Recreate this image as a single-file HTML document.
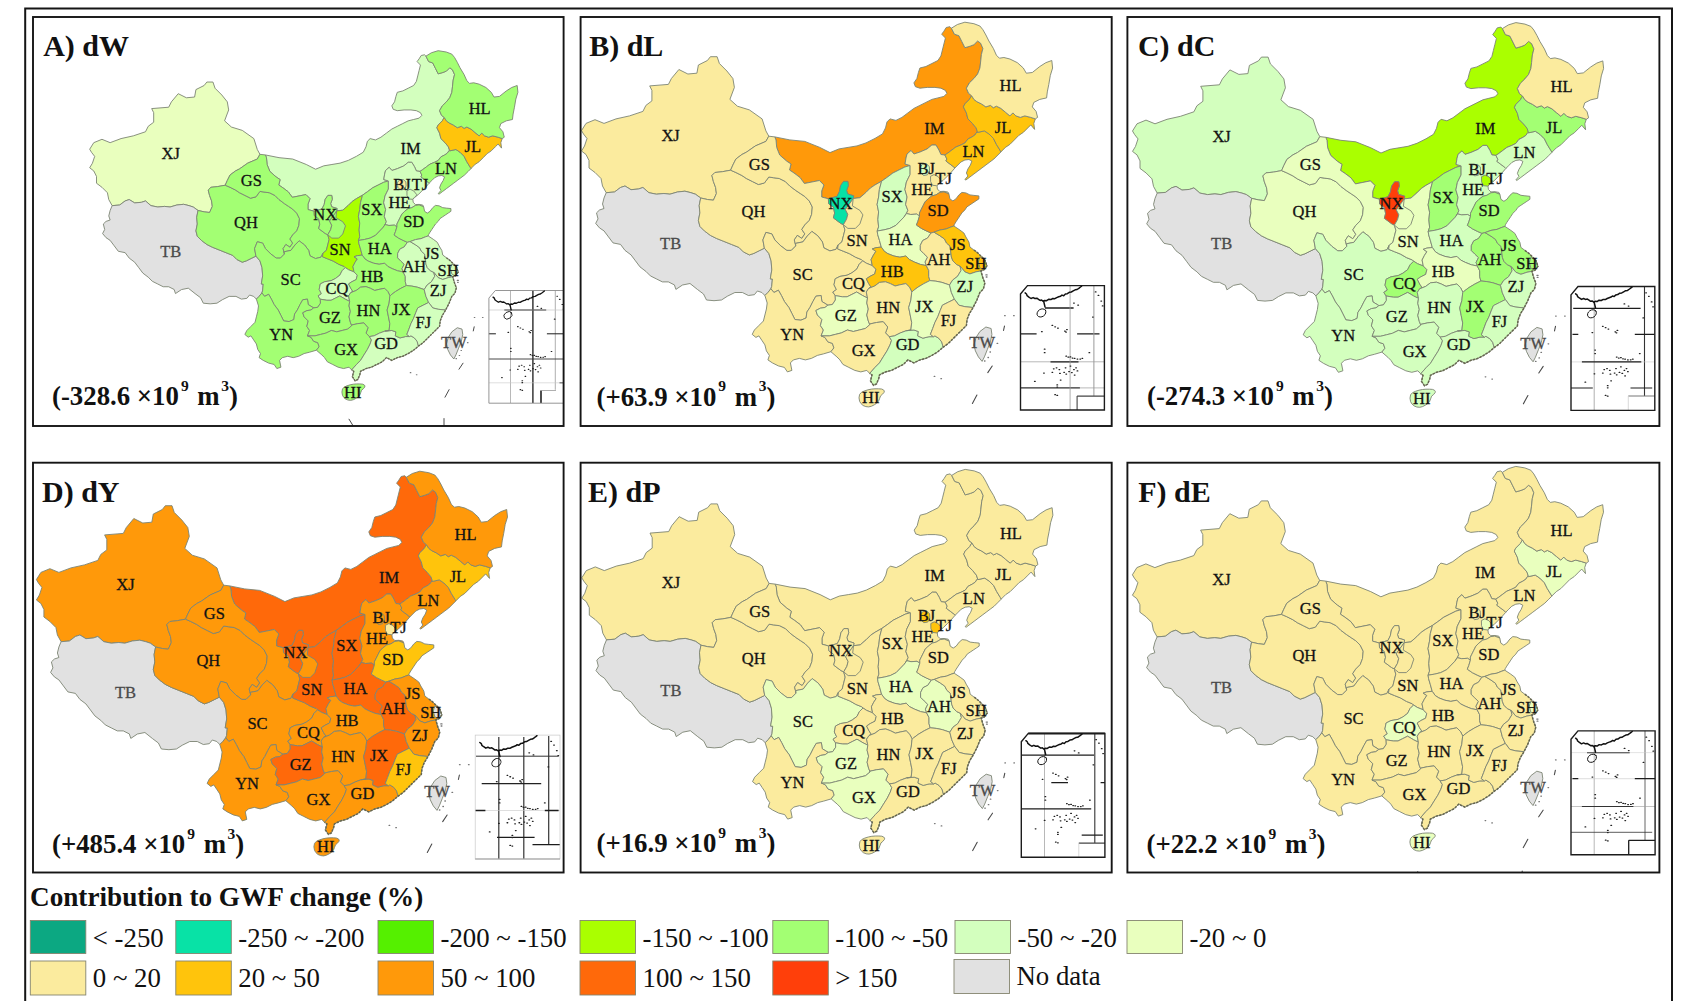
<!DOCTYPE html>
<html><head><meta charset="utf-8"><title>GWF change</title>
<style>
html,body{margin:0;padding:0;background:#fff;}
body{width:1684px;height:1001px;overflow:hidden;font-family:"Liberation Serif",serif;}
svg{display:block;}
text{font-family:"Liberation Serif",serif;fill:#111;}
.t{font-weight:bold;font-size:30px;}
.v{font-weight:bold;font-size:26.8px;}
.lg{font-size:26.8px;}
.lt{font-weight:bold;font-size:27.2px;}
.pl{font-size:16.5px;text-anchor:middle;fill:#1a1a1a;stroke:#1a1a1a;stroke-width:0.3;}
.pr{stroke:#7d8474;stroke-width:0.9;stroke-linejoin:round;}
</style></head><body>
<svg width="1684" height="1001" viewBox="0 0 1684 1001">
<rect x="0" y="0" width="1684" height="1001" fill="#fff"/>
<defs>
<path id="pIM" d="M774.8,136.9 789.8,139.9 804.8,141.4 819.8,147.4 830.0,152.6 839.0,148.9 848.0,147.4 857.0,145.9 866.0,142.9 875.0,138.4 882.5,133.9 885.5,127.9 887.0,121.9 890.0,118.9 895.9,120.4 901.9,117.4 907.9,112.9 913.9,108.4 919.9,105.4 925.9,102.4 931.9,99.4 937.9,97.9 943.9,96.4 946.9,93.4 945.4,90.4 940.9,88.2 934.9,87.4 927.4,87.4 919.9,88.2 915.4,86.7 913.9,82.9 916.9,78.5 918.4,72.5 919.9,68.0 925.9,66.5 931.9,63.5 937.9,60.5 940.9,56.0 942.4,50.0 943.9,44.0 945.4,38.0 941.7,34.2 943.9,31.2 946.2,27.5 949.9,26.7 951.4,28.2 954.4,34.2 958.9,35.7 961.9,41.7 964.9,47.7 970.1,46.2 973.9,44.7 977.6,41.0 980.6,43.2 982.9,48.5 981.4,54.5 980.6,62.0 979.9,68.0 977.6,74.0 973.9,78.5 969.4,82.9 966.4,88.2 968.6,93.4 971.6,95.7 969.4,99.4 964.9,103.9 963.4,106.9 966.4,112.9 967.9,118.9 972.4,123.4 976.1,127.9 977.6,132.4 976.9,132.0 974.9,135.0 971.9,137.0 967.9,139.0 964.9,143.0 960.9,145.0 955.9,147.0 951.9,150.0 947.9,153.0 944.9,155.0 940.9,154.5 938.9,150.0 935.9,145.0 931.9,145.0 927.0,149.0 920.0,152.0 914.0,154.0 911.0,150.5 907.0,154.0 906.0,158.0 905.0,164.0 910.1,165.5 904.9,167.0 898.9,170.0 892.9,173.0 886.9,177.5 881.6,181.2 874.9,185.0 870.4,188.0 865.9,192.5 859.9,197.7 853.2,198.5 853.7,195.8 847.8,194.0 846.6,190.4 848.4,185.6 847.8,181.4 843.6,181.4 840.6,185.6 839.4,191.6 837.0,196.4 828.4,198.8 821.7,197.0 821.7,191.0 823.9,185.0 819.4,180.5 811.9,182.0 804.4,183.5 800.0,177.5 794.0,173.0 789.5,170.0 791.0,164.0 786.5,161.0 779.7,155.0 776.7,147.5 776.0,140.0 774.8,136.9Z"/>
<path id="pXJ" d="M606.2,192.7 602.5,186.0 601.0,178.5 595.0,172.5 589.0,168.0 589.0,160.5 586.0,154.5 581.5,151.0 584.5,146.0 587.0,138.5 583.5,134.0 581.5,130.6 586.0,123.4 595.0,119.7 604.0,123.4 616.0,118.9 629.5,115.9 642.9,111.4 645.9,105.4 651.9,100.9 651.9,90.4 649.7,85.9 668.4,84.4 671.4,78.5 678.9,69.5 687.9,74.0 696.9,73.2 698.4,65.0 707.4,60.5 710.4,56.7 717.1,56.7 719.4,63.5 726.9,71.0 732.9,78.5 734.4,87.4 729.9,99.4 737.4,106.2 749.4,109.9 762.1,118.9 765.9,130.9 768.8,136.2 765.9,141.4 755.4,145.9 746.4,152.2 741.9,154.5 735.9,159.0 732.9,165.0 730.6,170.2 722.4,171.7 714.9,172.5 711.9,175.5 713.4,181.5 715.6,187.5 716.4,193.5 713.4,200.2 707.4,199.5 700.7,198.0 695.4,194.2 690.9,192.7 684.9,191.2 677.4,192.0 669.9,194.2 663.9,193.5 656.4,194.2 648.9,192.7 642.9,187.5 638.5,189.0 631.0,189.7 625.0,186.0 620.5,187.5 614.5,192.0 606.2,192.7Z"/>
<path id="pTB" d="M606.2,192.7 614.5,192.0 620.5,187.5 625.0,186.0 631.0,189.7 638.5,189.0 642.9,187.5 648.9,192.7 656.4,194.2 663.9,193.5 669.9,194.2 677.4,192.0 684.9,191.2 690.9,192.7 695.4,194.2 700.7,198.0 699.2,205.5 699.9,212.9 698.4,220.4 699.9,226.4 704.4,230.9 710.4,235.4 716.4,238.4 723.9,241.4 731.4,244.4 738.9,247.4 743.4,251.9 749.4,254.9 753.9,253.4 759.9,250.4 764.4,248.2 768.8,253.4 771.1,260.9 771.8,269.9 770.3,278.9 772.4,279.0 771.7,286.5 770.9,288.7 767.9,292.5 764.9,295.5 761.9,292.5 757.4,291.0 754.4,294.7 748.4,295.5 742.4,292.5 734.9,292.5 727.4,296.2 721.5,300.0 714.0,300.7 706.5,300.0 703.5,294.0 697.5,289.5 690.0,283.5 682.5,285.0 675.9,289.4 674.4,284.9 668.4,281.9 662.4,281.9 656.4,278.9 650.4,275.9 645.9,271.4 640.0,266.9 635.5,260.9 631.0,254.9 625.0,250.4 620.5,244.4 613.0,242.9 608.5,236.9 604.0,230.9 599.5,227.9 595.7,223.4 598.0,218.9 596.5,212.9 599.5,210.0 604.0,208.5 602.5,204.0 604.0,198.0 606.2,192.7Z"/>
<path id="pQH" d="M700.7,198.0 707.4,199.5 713.4,200.2 716.4,193.5 715.6,187.5 713.4,181.5 711.9,175.5 714.9,172.5 722.4,171.7 730.6,170.2 735.9,172.5 741.9,175.5 746.4,178.5 752.4,181.5 758.4,184.5 764.4,183.0 768.8,177.0 773.3,177.7 779.3,178.5 785.3,181.5 789.8,186.0 795.8,190.5 800.3,193.5 804.8,196.5 809.3,201.0 812.3,207.0 811.6,214.4 809.3,220.4 804.8,224.9 801.8,229.4 804.8,233.9 801.8,238.4 797.3,235.4 794.3,239.9 795.8,245.9 791.3,250.4 786.8,250.4 780.8,245.9 774.8,239.9 771.8,233.9 765.9,232.4 762.9,239.9 764.4,248.2 759.9,250.4 753.9,253.4 749.4,254.9 743.4,251.9 738.9,247.4 731.4,244.4 723.9,241.4 716.4,238.4 710.4,235.4 704.4,230.9 699.9,226.4 698.4,220.4 699.9,212.9 699.2,205.5 700.7,198.0Z"/>
<path id="pGS" d="M730.6,170.2 732.9,165.0 735.9,159.0 741.9,154.5 746.4,152.2 755.4,145.9 765.9,141.4 768.8,136.2 774.8,136.9 776.0,140.0 776.7,147.5 779.7,155.0 786.5,161.0 791.0,164.0 789.5,170.0 794.0,173.0 800.0,177.5 804.4,183.5 811.9,182.0 819.4,180.5 823.9,185.0 821.7,191.0 821.7,197.0 828.4,198.8 828.6,203.6 833.4,207.2 834.6,213.1 833.4,217.9 840.6,223.3 843.4,224.7 844.9,229.9 843.4,235.9 841.9,241.9 838.2,244.9 835.9,249.4 829.9,250.9 823.9,247.9 822.4,241.9 817.9,235.9 811.9,231.4 807.4,235.9 802.9,241.9 795.5,243.4 795.8,245.9 794.3,239.9 797.3,235.4 801.8,238.4 804.8,233.9 801.8,229.4 804.8,224.9 809.3,220.4 811.6,214.4 812.3,207.0 809.3,201.0 804.8,196.5 800.3,193.5 795.8,190.5 789.8,186.0 785.3,181.5 779.3,178.5 773.3,177.7 768.8,177.0 764.4,183.0 758.4,184.5 752.4,181.5 746.4,178.5 741.9,175.5 735.9,172.5 730.6,170.2Z"/>
<path id="pSC" d="M795.5,243.4 802.9,241.9 807.4,235.9 811.9,231.4 817.9,235.9 822.4,241.9 823.9,247.9 829.9,250.9 835.9,249.4 838.2,244.9 837.6,248.9 843.5,251.3 849.5,253.7 855.5,257.2 861.5,259.6 862.7,260.8 859.1,264.4 856.7,269.2 851.9,272.8 847.1,275.2 840.0,276.4 835.2,278.8 834.0,284.8 836.4,289.6 832.8,292.0 835.2,295.6 835.4,300.0 832.4,304.5 827.9,305.2 821.9,301.5 821.1,295.5 815.9,296.2 812.9,301.5 809.9,307.5 806.9,312.0 806.1,318.0 800.9,320.2 794.9,319.5 791.9,313.5 788.9,307.5 784.4,301.5 781.4,295.5 778.4,290.2 773.9,292.5 770.9,288.7 771.7,286.5 772.4,279.0 770.3,278.9 771.8,269.9 771.1,260.9 768.8,253.4 764.4,248.2 762.9,239.9 765.9,232.4 771.8,233.9 774.8,239.9 780.8,245.9 786.8,250.4 791.3,250.4 795.8,245.9Z"/>
<path id="pYN" d="M764.9,295.5 767.2,303.0 766.4,309.0 764.9,315.0 763.4,321.0 758.9,325.5 754.4,330.0 752.2,334.4 755.9,337.4 758.9,335.9 761.9,340.4 764.9,344.9 766.4,350.9 769.4,355.4 767.9,359.9 772.4,362.9 778.4,365.9 784.4,367.4 787.4,371.9 791.9,370.4 790.4,362.9 793.4,359.9 799.4,358.4 805.4,359.9 811.4,358.4 817.4,355.4 823.4,353.9 830.9,351.7 833.9,347.9 832.4,343.4 827.9,341.9 824.9,337.4 821.1,335.9 823.4,330.0 820.4,325.5 821.9,319.5 817.4,315.0 815.9,310.5 820.4,308.2 824.9,307.5 827.9,305.2 821.9,301.5 821.1,295.5 815.9,296.2 812.9,301.5 809.9,307.5 806.9,312.0 806.1,318.0 800.9,320.2 794.9,319.5 791.9,313.5 788.9,307.5 784.4,301.5 781.4,295.5 778.4,290.2 773.9,292.5 770.9,288.7 767.9,292.5 764.9,295.5Z"/>
<path id="pSN" d="M853.2,198.5 859.9,197.7 865.9,192.5 870.4,188.0 874.9,185.0 881.6,181.2 879.4,189.5 878.6,197.0 877.1,204.4 878.6,211.9 877.9,219.4 878.6,226.9 877.2,231.0 877.7,234.5 879.5,240.5 881.3,247.1 875.9,247.7 872.3,248.9 875.9,251.3 873.5,254.9 871.1,259.6 872.3,265.6 866.3,263.2 862.7,260.8 861.5,259.6 855.5,257.2 849.5,253.7 843.5,251.3 837.6,248.9 838.2,244.9 841.9,241.9 843.4,235.9 844.9,229.9 843.4,224.7 846.6,219.1 847.8,214.3 845.4,209.6 847.8,206.0 851.4,201.2 853.2,198.5Z"/>
<path id="pNX" d="M828.4,198.8 837.0,196.4 839.4,191.6 840.6,185.6 843.6,181.4 847.8,181.4 848.4,185.6 846.6,190.4 847.8,194.0 853.7,195.8 853.2,198.5 851.4,201.2 847.8,206.0 845.4,209.6 847.8,214.3 846.6,219.1 843.4,224.7 840.6,223.3 833.4,217.9 834.6,213.1 833.4,207.2 828.6,203.6 828.4,198.8Z"/>
<path id="pNX2" d="M853.2,198.5 852.4,205.9 859.9,210.4 862.9,214.9 859.9,223.9 855.4,228.4 847.9,228.4 843.4,224.7 846.6,219.1 847.8,214.3 845.4,209.6 847.8,206.0 851.4,201.2 853.2,198.5Z"/>
<path id="pSX" d="M881.6,181.2 886.9,177.5 892.9,173.0 898.9,170.0 904.9,167.0 910.1,165.5 910.1,174.5 906.4,182.0 904.9,189.5 907.1,197.0 905.6,204.4 907.9,210.4 904.9,216.4 904.0,217.0 895.9,225.4 889.9,228.4 883.9,229.9 877.2,231.0 878.6,226.9 877.9,219.4 878.6,211.9 877.1,204.4 878.6,197.0 879.4,189.5 881.6,181.2Z"/>
<path id="pHE" d="M910.1,165.5 905.0,164.0 906.0,158.0 907.0,154.0 911.0,150.5 914.0,154.0 920.0,152.0 927.0,149.0 931.9,145.0 935.9,145.0 938.9,150.0 940.9,154.5 944.9,155.0 946.9,159.0 945.9,161.0 949.9,164.0 953.9,167.0 954.9,168.0 951.0,172.5 947.0,176.5 943.0,180.5 939.5,183.3 937.0,185.5 937.4,189.0 939.9,191.5 943.9,191.3 947.9,192.0 948.9,193.9 943.9,191.9 939.9,192.4 935.9,194.9 931.9,195.9 928.0,198.9 925.0,201.9 923.0,205.9 921.0,209.9 919.5,212.9 919.5,216.0 916.7,214.1 910.7,214.5 906.5,213.5 904.0,217.0 904.9,216.4 907.9,210.4 905.6,204.4 907.1,197.0 904.9,189.5 906.4,182.0 910.1,174.5 910.1,165.5Z"/>
<path id="pBJ" d="M920.2,167.0 922.5,164.3 926.5,164.0 929.3,166.5 929.6,171.0 927.5,174.8 923.5,175.5 920.5,172.5Z"/>
<path id="pTJ" d="M930.5,176.3 934.0,174.6 938.0,176.5 941.5,180.8 939.0,183.6 936.5,185.7 932.5,185.3 930.6,181.5Z"/>
<path id="pLN" d="M944.9,155.0 947.9,153.0 951.9,150.0 955.9,147.0 960.9,145.0 964.9,143.0 967.9,139.0 971.9,137.0 974.9,135.0 976.9,132.0 977.6,132.4 984.4,130.9 988.9,133.9 993.4,138.4 996.4,144.4 1000.1,150.4 1000.9,151.9 1000.9,152.0 997.9,155.0 993.9,159.0 989.9,162.0 985.9,165.0 981.9,168.0 977.9,171.0 973.9,174.0 969.9,177.0 965.9,180.0 964.9,179.5 967.9,176.0 966.4,173.0 967.9,169.0 970.4,165.0 971.9,161.0 968.9,159.5 964.9,160.0 960.9,162.0 957.9,165.0 954.9,168.0 953.9,167.0 949.9,164.0 945.9,161.0 946.9,159.0 944.9,155.0Z"/>
<path id="pJL" d="M977.6,132.4 976.1,127.9 972.4,123.4 967.9,118.9 966.4,112.9 963.4,106.9 964.9,103.9 969.4,99.4 971.6,95.7 973.9,99.4 976.9,101.7 981.4,103.9 985.9,106.9 990.4,105.4 993.4,107.7 996.4,106.2 1000.9,108.4 1005.4,112.2 1009.9,115.9 1012.9,112.9 1015.9,115.9 1020.3,117.4 1024.8,115.9 1030.8,117.4 1035.3,118.9 1033.8,123.4 1034.6,129.4 1030.8,124.9 1027.8,127.9 1023.3,132.4 1018.8,135.4 1014.4,139.9 1009.9,144.4 1005.4,147.4 1000.9,151.9 1000.1,150.4 996.4,144.4 993.4,138.4 988.9,133.9 984.4,130.9 977.6,132.4Z"/>
<path id="pHL" d="M951.4,28.2 957.4,24.5 964.9,22.2 973.9,23.7 979.9,26.0 982.9,29.7 985.9,35.0 988.9,41.0 993.4,48.5 996.4,55.2 999.4,58.2 1003.9,57.5 1009.9,59.0 1017.4,62.7 1023.3,68.0 1026.3,73.2 1032.3,72.5 1039.8,66.5 1045.8,62.7 1051.8,60.5 1052.6,68.0 1050.3,75.5 1048.8,84.4 1047.3,91.9 1046.6,97.9 1039.8,99.4 1033.8,102.4 1032.3,106.9 1036.1,111.4 1037.6,117.4 1035.3,118.9 1030.8,117.4 1024.8,115.9 1020.3,117.4 1015.9,115.9 1012.9,112.9 1009.9,115.9 1005.4,112.2 1000.9,108.4 996.4,106.2 993.4,107.7 990.4,105.4 985.9,106.9 981.4,103.9 976.9,101.7 973.9,99.4 971.6,95.7 968.6,93.4 966.4,88.2 969.4,82.9 973.9,78.5 977.6,74.0 979.9,68.0 980.6,62.0 981.4,54.5 982.9,48.5 980.6,43.2 977.6,41.0 973.9,44.7 970.1,46.2 964.9,47.7 961.9,41.7 958.9,35.7 954.4,34.2 951.4,28.2Z"/>
<path id="pHA" d="M904.0,217.0 906.5,213.5 910.7,214.5 916.7,214.1 919.5,216.0 917.9,221.3 916.4,225.0 921.5,228.5 926.3,230.9 931.0,233.0 927.5,238.1 922.7,240.5 920.3,245.3 920.3,250.1 923.9,253.7 927.5,257.2 925.1,262.0 926.3,265.6 920.3,264.4 914.3,262.0 909.5,259.6 905.9,256.0 899.9,257.2 893.9,256.0 887.9,253.7 884.3,251.3 881.3,247.1 879.5,240.5 877.7,234.5 877.2,231.0 883.9,229.9 889.9,228.4 895.9,225.4 904.0,217.0Z"/>
<path id="pSD" d="M948.9,193.9 949.9,198.9 952.9,200.9 955.9,198.9 958.9,194.9 961.9,192.4 965.9,192.9 969.9,194.9 973.9,195.4 978.9,195.9 978.9,198.9 975.9,200.9 972.9,202.9 969.9,204.9 966.9,206.9 964.9,209.9 961.9,212.9 959.9,215.9 957.9,218.9 955.9,221.9 954.4,224.4 953.9,226.0 950.9,227.0 946.0,229.0 940.0,230.0 934.0,232.2 931.0,233.0 926.3,230.9 921.5,228.5 916.4,225.0 917.9,221.3 919.5,216.0 919.5,212.9 921.0,209.9 923.0,205.9 925.0,201.9 928.0,198.9 931.9,195.9 935.9,194.9 939.9,192.4 943.9,191.9 948.9,193.9Z"/>
<path id="pCQ" d="M835.2,295.6 832.8,292.0 836.4,289.6 834.0,284.8 835.2,278.8 840.0,276.4 847.1,275.2 851.9,272.8 856.7,269.2 859.1,264.4 862.7,260.8 866.3,263.2 872.3,265.6 875.9,269.2 874.7,274.0 869.9,276.4 866.3,278.8 868.7,283.6 871.1,287.2 868.7,288.4 866.3,292.0 867.5,298.0 862.7,295.6 856.7,292.0 851.9,294.4 847.1,296.8 842.4,296.8 835.2,295.6Z"/>
<path id="pGZ" d="M827.9,305.2 832.4,304.5 835.4,300.0 835.2,295.6 842.4,296.8 847.1,296.8 851.9,294.4 856.7,292.0 862.7,295.6 867.5,298.0 866.8,303.0 868.3,309.0 866.8,315.0 868.3,321.0 869.8,324.7 865.3,328.5 859.3,330.0 853.3,331.5 847.4,330.0 841.4,332.9 835.4,334.4 829.4,335.9 821.1,335.9 823.4,330.0 820.4,325.5 821.9,319.5 817.4,315.0 815.9,310.5 820.4,308.2 824.9,307.5 827.9,305.2Z"/>
<path id="pHB" d="M872.3,265.6 871.1,259.6 873.5,254.9 875.9,251.3 872.3,248.9 875.9,247.7 881.3,247.1 884.3,251.3 887.9,253.7 893.9,256.0 899.9,257.2 905.9,256.0 909.5,259.6 914.3,262.0 920.3,264.4 926.3,265.6 928.7,270.4 928.7,276.4 929.9,280.6 923.9,283.6 917.9,287.2 913.1,290.8 911.9,292.0 909.5,287.2 905.9,283.6 899.9,284.8 895.1,286.0 890.3,283.6 885.5,281.8 879.5,282.4 874.7,286.0 868.7,288.4 871.1,287.2 868.7,283.6 866.3,278.8 869.9,276.4 874.7,274.0 875.9,269.2 872.3,265.6Z"/>
<path id="pHN" d="M868.7,288.4 874.7,286.0 879.5,282.4 885.5,281.8 890.3,283.6 895.1,286.0 899.9,284.8 905.9,283.6 909.5,287.2 911.9,292.0 911.7,292.5 910.9,300.0 908.7,307.5 910.2,315.0 911.7,322.5 910.9,330.0 906.4,330.7 900.4,332.9 894.4,335.9 889.2,336.7 885.5,332.9 887.7,327.0 883.2,321.7 876.5,322.5 869.7,324.0 869.8,324.7 868.3,321.0 866.8,315.0 868.3,309.0 866.8,303.0 867.5,298.0 866.3,292.0 868.7,288.4Z"/>
<path id="pGX" d="M821.1,335.9 824.9,337.4 827.9,341.9 832.4,343.4 833.9,347.9 830.9,351.7 836.9,356.9 839.9,359.9 842.9,364.4 848.8,367.4 854.8,370.4 860.8,371.9 866.8,370.4 869.7,373.4 875.0,367.4 879.5,362.9 883.2,356.9 887.0,350.9 890.0,344.9 891.5,340.4 889.2,336.7 885.5,332.9 887.7,327.0 883.2,321.7 876.5,322.5 869.7,324.0 869.8,324.7 865.3,328.5 859.3,330.0 853.3,331.5 847.4,330.0 841.4,332.9 835.4,334.4 829.4,335.9 821.1,335.9Z"/>
<path id="pGD" d="M869.7,373.4 875.0,367.4 879.5,362.9 883.2,356.9 887.0,350.9 890.0,344.9 891.5,340.4 889.2,336.7 894.4,335.9 900.4,332.9 906.4,330.7 913.9,330.0 918.4,331.5 917.7,335.9 922.9,338.2 928.9,336.7 933.4,336.7 934.9,335.9 938.7,338.2 941.7,341.9 943.2,347.2 937.9,351.7 931.9,355.4 925.9,358.4 919.9,359.9 913.9,362.9 907.9,359.9 903.4,364.4 897.4,367.4 891.5,370.4 885.5,371.9 879.5,374.9 878.7,378.7 876.5,383.9 873.5,385.4 870.5,380.9 872.0,374.9 869.7,373.4Z"/>
<path id="pAH" d="M931.0,233.0 934.0,232.2 940.0,235.8 944.5,239.0 946.5,243.0 950.0,246.0 950.4,249.5 950.9,253.0 951.4,257.0 952.9,260.9 956.4,264.4 960.0,266.0 961.1,270.4 957.5,276.4 952.7,280.0 949.5,285.0 941.9,282.4 935.9,281.2 929.9,280.6 928.7,276.4 928.7,270.4 926.3,265.6 925.1,262.0 927.5,257.2 923.9,253.7 920.3,250.1 920.3,245.3 922.7,240.5 927.5,238.1 931.0,233.0Z"/>
<path id="pJX" d="M911.9,292.0 913.1,290.8 917.9,287.2 923.9,283.6 929.9,280.6 935.9,281.2 941.9,282.4 949.5,285.0 951.4,292.5 954.4,299.2 948.4,302.2 942.4,305.2 940.2,310.5 937.9,316.5 934.9,322.5 932.7,328.5 930.4,334.4 933.4,336.7 928.9,336.7 922.9,338.2 917.7,335.9 918.4,331.5 913.9,330.0 906.4,330.7 910.9,330.0 911.7,322.5 910.2,315.0 908.7,307.5 910.9,300.0 911.7,292.5Z"/>
<path id="pJS" d="M934.0,232.2 940.0,230.0 946.0,229.0 950.9,227.0 953.9,226.0 959.9,230.0 963.9,233.0 965.9,237.0 968.9,242.0 969.9,247.0 973.9,250.0 977.9,253.0 980.9,256.0 984.9,260.0 986.9,265.9 983.9,269.9 980.9,270.9 975.9,271.9 969.9,273.9 964.9,271.9 960.0,266.0 956.4,264.4 952.9,260.9 951.4,257.0 950.9,253.0 950.4,249.5 950.0,246.0 946.5,243.0 944.5,239.0 940.0,235.8 934.0,232.2Z"/>
<path id="pZJ" d="M960.0,266.0 964.9,271.9 969.9,273.9 975.9,271.9 980.9,270.9 982.9,277.9 984.9,282.9 983.4,288.9 979.9,292.5 976.9,300.0 973.1,307.5 964.9,306.7 958.9,305.2 954.4,299.2 951.4,292.5 949.5,285.0 952.7,280.0 957.5,276.4 961.1,270.4 960.0,266.0Z"/>
<path id="pFJ" d="M954.4,299.2 958.9,305.2 964.9,306.7 973.1,307.5 969.4,313.5 967.1,319.5 966.4,325.5 961.9,330.0 957.4,334.4 952.9,338.9 948.4,343.4 943.2,347.2 941.7,341.9 938.7,338.2 934.9,335.9 933.4,336.7 930.4,334.4 932.7,328.5 934.9,322.5 937.9,316.5 940.2,310.5 942.4,305.2 948.4,302.2 954.4,299.2Z"/>
<path id="pSH" d="M979.9,257.0 984.9,260.0 986.9,265.9 983.9,269.9 979.9,267.9 978.4,261.9Z"/>
<path id="pHI" d="M859.6,394.4 861.5,392.3 864.5,390.9 868.0,389.8 871.5,389.1 875.0,388.8 878.5,388.8 881.5,389.0 883.4,389.8 884.3,391.0 884.1,392.3 882.5,394.2 880.6,395.8 879.6,398.5 878.5,401.3 876.6,403.3 874.3,404.8 871.5,406.2 868.7,406.9 865.8,406.6 863.1,405.5 861.0,403.6 859.6,401.3 859.0,397.8Z"/>
<path id="pTW" d="M985.9,327.0 991.1,328.5 991.9,334.4 990.4,341.9 987.4,349.4 984.4,356.9 982.1,361.4 978.4,356.9 975.4,350.9 973.9,344.9 976.1,337.4 979.9,331.5Z"/>
<g id="insetc" fill="none" stroke="#111" stroke-linecap="round" stroke-linejoin="round">
<path d="M4.6,7.3 6.0,8.4 6.6,10.1 8.4,11.5 10.5,12.9 12.6,12.0 14.4,12.9 16.4,12.6 18.0,13.7 19.6,14.8 21.1,14.5 22.8,15.7 24.2,14.8 26.1,15.1 28.1,13.7 30.3,14.0 32.3,12.9 34.3,13.1 36.2,12.0 38.2,11.2 40.1,10.6 41.5,9.5 43.2,10.1 44.9,8.4 46.8,8.1 48.8,6.7 50.8,6.4 52.7,5.3 54.7,4.2 56.6,3.9 58.6,2.5 60.0,1.4 61.1,0.6" stroke-width="1.5"/>
<path d="M23.1,15.4 L24.5,21.3" stroke-width="1.5"/>
<ellipse cx="21.0" cy="27.3" rx="4.8" ry="3.7" transform="rotate(-35 21.0 27.3)" stroke-width="0.9"/>
<path d="M53.1,17.5h0.7M57.3,19.6h0.7M72.0,31.5h0.7M80.4,15.4h0.7M81.8,20.3h0.7M77.6,9.8h0.7M74.8,6.3h0.7M31.5,39.8h0.7M34.3,41.2h0.7M37.1,42.6h0.7M44.0,45.4h0.7M46.1,44.0h0.7M45.2,46.4h0.7M21.0,46.1h0.7M23.8,63.6h0.7M23.8,67.1h0.7M68.5,67.1h0.7M45.4,70.6h0.7M47.5,71.6h0.7M49.6,71.3h0.7M51.7,72.4h0.7M53.8,72.7h0.7M56.6,73.5h0.7M59.4,73.4h0.7M61.5,72.7h0.7M32.9,83.2h0.7M35.7,82.2h0.7M38.5,83.9h0.7M31.5,86.7h0.7M39.1,87.8h0.7M43.3,86.7h0.7M45.4,88.4h0.7M48.2,86.0h0.7M51.0,87.0h0.7M53.1,83.9h0.7M55.2,82.2h0.7M56.6,85.3h0.7M53.8,89.5h0.7M49.6,80.4h0.7M44.7,82.2h0.7M23.1,87.4h0.7M14.0,95.8h0.7M39.8,94.4h0.7M36.4,99.3h0.7M36.4,101.4h0.7M34.3,109.1h0.7M36.4,109.8h0.7" stroke-width="1.25" stroke="#222"/>
</g>
<path id="coast" fill="none" stroke="#66664f" stroke-width="1.5" stroke-dasharray="2.4 1.1" d="M973.9,250.0 977.9,253.0 980.9,256.0 984.9,260.0 986.9,265.9 983.9,269.9 980.9,270.9 982.9,277.9 984.9,282.9 983.4,288.9 979.9,292.5 976.9,300.0 973.1,307.5 969.4,313.5 967.1,319.5 966.4,325.5 961.9,330.0 957.4,334.4 952.9,338.9 948.4,343.4 943.2,347.2 937.9,351.7 931.9,355.4 925.9,358.4 919.9,359.9 913.9,362.9 907.9,359.9 903.4,364.4 897.4,367.4 891.5,370.4 885.5,371.9 879.5,374.9 878.7,378.7 876.5,383.9 873.5,385.4 870.5,380.9 872.0,374.9 869.7,373.4"/>
<g id="misc" fill="none" stroke="#4a4a4a" stroke-width="1.1" stroke-linecap="round"><path d="M987.8,372.6L992.2,366M972.4,403.4L976.9,395.1M866.8,427.6L871,434.4M971.3,426.9V435M1003.5,330.5L1004.5,326"/><path d="M997.1,343.4h0.6M1004.6,315.7h0.6M1013.6,315.7h0.6M934.2,376.4h0.6M940.9,378.7h0.6M985.9,274.9h1.2M986.2,277h0.8M990,352h0.5M988,357.5h0.5M984.5,361h0.5" stroke="#777" stroke-width="1.3"/></g>
<clipPath id="c0"><rect x="33.0" y="17.0" width="530.6" height="409.0"/></clipPath>
<clipPath id="c1"><rect x="580.6" y="17.0" width="531.1" height="409.0"/></clipPath>
<clipPath id="c2"><rect x="1127.4" y="17.0" width="532.0" height="409.0"/></clipPath>
<clipPath id="c3"><rect x="33.0" y="462.7" width="530.6" height="409.8"/></clipPath>
<clipPath id="c4"><rect x="580.6" y="462.7" width="531.1" height="409.8"/></clipPath>
<clipPath id="c5"><rect x="1127.4" y="462.7" width="532.0" height="409.8"/></clipPath>
</defs>
<path d="M25.2,1003V8.6H1672V1003" fill="none" stroke="#151515" stroke-width="2"/>
<g clip-path="url(#c0)">
<g transform="translate(-438.90,30.50) scale(0.9090)" class="pr" style="stroke-width:0.99">
<use href="#pIM" fill="#d3ffbe"/>
<use href="#pXJ" fill="#e9ffbe"/>
<use href="#pTB" fill="#e1e1e1"/>
<use href="#pQH" fill="#a3ff73"/>
<use href="#pGS" fill="#a3ff73"/>
<use href="#pSC" fill="#a3ff73"/>
<use href="#pYN" fill="#a3ff73"/>
<use href="#pSN" fill="#aaff00"/>
<use href="#pNX" fill="#a3ff73"/>
<use href="#pNX2" fill="#a3ff73"/>
<use href="#pSX" fill="#a3ff73"/>
<use href="#pHE" fill="#d3ffbe"/>
<use href="#pBJ" fill="#fbeb9e"/>
<use href="#pTJ" fill="#d3ffbe"/>
<use href="#pLN" fill="#a3ff73"/>
<use href="#pJL" fill="#ffc40c"/>
<use href="#pHL" fill="#a3ff73"/>
<use href="#pHA" fill="#a3ff73"/>
<use href="#pSD" fill="#a3ff73"/>
<use href="#pCQ" fill="#d3ffbe"/>
<use href="#pGZ" fill="#a3ff73"/>
<use href="#pHB" fill="#a3ff73"/>
<use href="#pHN" fill="#a3ff73"/>
<use href="#pGX" fill="#a3ff73"/>
<use href="#pGD" fill="#d3ffbe"/>
<use href="#pAH" fill="#d3ffbe"/>
<use href="#pJX" fill="#a3ff73"/>
<use href="#pJS" fill="#d3ffbe"/>
<use href="#pZJ" fill="#d3ffbe"/>
<use href="#pFJ" fill="#d3ffbe"/>
<use href="#pSH" fill="#d3ffbe"/>
<use href="#pHI" fill="#a3ff73"/>
<use href="#pTW" fill="#e1e1e1"/>
</g>
<g transform="translate(-438.90,30.50) scale(0.9090)"><use href="#coast"/><use href="#misc"/></g>
<g class="pl">
<text x="170.7" y="159.3">XJ</text>
<text x="170.7" y="257.3" style="fill:#4a4a4a;stroke:#4a4a4a">TB</text>
<text x="245.9" y="228.3">QH</text>
<text x="251.4" y="185.5">GS</text>
<text x="410.6" y="153.7">IM</text>
<text x="479.7" y="114.0">HL</text>
<text x="472.8" y="151.9">JL</text>
<text x="446.0" y="173.9">LN</text>
<text x="325.2" y="220.3">NX</text>
<text x="371.9" y="214.7">SX</text>
<text x="340.1" y="254.9">SN</text>
<text x="399.4" y="208.1">HE</text>
<text x="402.0" y="189.7">BJ</text>
<text x="420.0" y="189.7">TJ</text>
<text x="413.7" y="226.9">SD</text>
<text x="379.7" y="253.8">HA</text>
<text x="431.7" y="258.5">JS</text>
<text x="414.3" y="271.7">AH</text>
<text x="448.1" y="275.5">SH</text>
<text x="372.1" y="282.4">HB</text>
<text x="336.9" y="293.5">CQ</text>
<text x="290.7" y="285.1">SC</text>
<text x="438.1" y="296.4">ZJ</text>
<text x="401.2" y="314.5">JX</text>
<text x="368.5" y="315.5">HN</text>
<text x="329.9" y="323.1">GZ</text>
<text x="423.3" y="327.6">FJ</text>
<text x="281.2" y="340.3">YN</text>
<text x="346.1" y="354.7">GX</text>
<text x="386.1" y="349.1">GD</text>
<text x="453.9" y="347.6" style="fill:#4a4a4a;stroke:#4a4a4a">TW</text>
<text x="352.7" y="397.7">HI</text>
</g>
<g>
<rect x="488.9" y="290.5" width="76.3" height="112.7" fill="#fff"/>
<path d="M532.9,290.5L532.9,403.0" stroke="#2a2a2a" stroke-width="1.4"/>
<path d="M510.5,290.5L510.5,403.0" stroke="#9a9a9a" stroke-width="0.7"/>
<path d="M555.3,290.5L555.3,389.8" stroke="#9a9a9a" stroke-width="0.8"/>
<path d="M488.9,310.0L563.0,310.0" stroke="#c8c8c8" stroke-width="0.7"/>
<path d="M504.3,310.0L546.2,310.0" stroke="#444" stroke-width="1.0"/>
<path d="M488.9,359.0L563.0,359.0" stroke="#333" stroke-width="0.9"/>
<path d="M488.9,333.8L495.9,333.8" stroke="#1c1c1c" stroke-width="1.0"/>
<path d="M546.9,333.8L563.7,333.8" stroke="#1c1c1c" stroke-width="1.0"/>
<path d="M559.5,382.8L563.7,382.8" stroke="#1c1c1c" stroke-width="1.0"/>
<path d="M488.9,382.8L563.0,382.8" stroke="#c8c8c8" stroke-width="0.6"/>
<path d="M541.0,390.5L541.0,403.0" stroke="#222" stroke-width="1.6"/>
<path d="M541.0,390.5L556.0,390.5" stroke="#9a9a9a" stroke-width="0.8"/>
<path d="M488.9,298.1L495.3,290.5H565.2V403.2H488.9Z" fill="none" stroke="#8a8a8a" stroke-width="0.9"/>
<use href="#insetc" transform="translate(488.9,290.5) scale(0.909)"/>
</g>
</g>
<rect x="33.0" y="17.0" width="530.6" height="409.0" fill="none" stroke="#151515" stroke-width="1.9"/>
<text class="t" x="43.2" y="56.2">A) dW</text>
<text class="v" x="52.0" y="405.0">(-328.6 ×10<tspan dy="-14.3" dx="2" font-size="15.5">9</tspan><tspan dy="14.3" dx="2"> m</tspan><tspan dy="-14.3" dx="1.5" font-size="15.5">3</tspan><tspan dy="14.3" dx="0">)</tspan></text>
<g clip-path="url(#c1)">
<g transform="translate(0.00,0.00) scale(1.0000)" class="pr" style="stroke-width:0.90">
<use href="#pIM" fill="#ff990a"/>
<use href="#pXJ" fill="#fbeb9e"/>
<use href="#pTB" fill="#e1e1e1"/>
<use href="#pQH" fill="#fbeb9e"/>
<use href="#pGS" fill="#fbeb9e"/>
<use href="#pSC" fill="#fbeb9e"/>
<use href="#pYN" fill="#fbeb9e"/>
<use href="#pSN" fill="#fbeb9e"/>
<use href="#pNX" fill="#08e2a6"/>
<use href="#pNX2" fill="#fbeb9e"/>
<use href="#pSX" fill="#d3ffbe"/>
<use href="#pHE" fill="#fbeb9e"/>
<use href="#pBJ" fill="#d3ffbe"/>
<use href="#pTJ" fill="#fbeb9e"/>
<use href="#pLN" fill="#ffc40c"/>
<use href="#pJL" fill="#ffc40c"/>
<use href="#pHL" fill="#fbeb9e"/>
<use href="#pHA" fill="#e9ffbe"/>
<use href="#pSD" fill="#ff990a"/>
<use href="#pCQ" fill="#fbeb9e"/>
<use href="#pGZ" fill="#e9ffbe"/>
<use href="#pHB" fill="#ffc40c"/>
<use href="#pHN" fill="#fbeb9e"/>
<use href="#pGX" fill="#fbeb9e"/>
<use href="#pGD" fill="#d3ffbe"/>
<use href="#pAH" fill="#fbeb9e"/>
<use href="#pJX" fill="#e9ffbe"/>
<use href="#pJS" fill="#ffc40c"/>
<use href="#pZJ" fill="#d3ffbe"/>
<use href="#pFJ" fill="#fbeb9e"/>
<use href="#pSH" fill="#ffc40c"/>
<use href="#pHI" fill="#fbeb9e"/>
<use href="#pTW" fill="#e1e1e1"/>
</g>
<g transform="translate(0.00,0.00) scale(1.0000)"><use href="#coast"/><use href="#misc"/></g>
<g class="pl">
<text x="670.6" y="141.1">XJ</text>
<text x="670.6" y="249.0" style="fill:#4a4a4a;stroke:#4a4a4a">TB</text>
<text x="753.4" y="217.0">QH</text>
<text x="759.4" y="170.0">GS</text>
<text x="934.3" y="133.7">IM</text>
<text x="1010.6" y="91.3">HL</text>
<text x="1003.0" y="133.0">JL</text>
<text x="973.5" y="157.2">LN</text>
<text x="840.5" y="208.5">NX</text>
<text x="892.0" y="202.1">SX</text>
<text x="857.0" y="246.3">SN</text>
<text x="922.2" y="194.8">HE</text>
<text x="926.2" y="174.1">BJ</text>
<text x="943.6" y="183.5">TJ</text>
<text x="938.0" y="215.5">SD</text>
<text x="900.5" y="245.1">HA</text>
<text x="957.8" y="250.3">JS</text>
<text x="938.6" y="264.8">AH</text>
<text x="975.8" y="269.0">SH</text>
<text x="892.2" y="276.6">HB</text>
<text x="853.5" y="288.8">CQ</text>
<text x="802.6" y="279.5">SC</text>
<text x="964.8" y="292.0">ZJ</text>
<text x="924.2" y="311.9">JX</text>
<text x="888.2" y="313.0">HN</text>
<text x="845.8" y="321.3">GZ</text>
<text x="948.5" y="326.3">FJ</text>
<text x="792.2" y="340.3">YN</text>
<text x="863.6" y="356.1">GX</text>
<text x="907.6" y="349.9">GD</text>
<text x="982.2" y="348.3" style="fill:#4a4a4a;stroke:#4a4a4a">TW</text>
<text x="870.8" y="403.4">HI</text>
</g>
<g>
<rect x="1020.5" y="285.6" width="83.9" height="124.4" fill="#fff"/>
<path d="M1045.0,308.0L1073.6,308.0" stroke="#1c1c1c" stroke-width="1.3"/>
<path d="M1020.5,333.8L1036.6,333.8" stroke="#1c1c1c" stroke-width="1.3"/>
<path d="M1077.1,333.8L1099.5,333.8" stroke="#1c1c1c" stroke-width="1.3"/>
<path d="M1020.5,361.8L1104.4,361.8" stroke="#9a9a9a" stroke-width="0.7"/>
<path d="M1050.5,361.8L1078.5,361.8" stroke="#1c1c1c" stroke-width="1.3"/>
<path d="M1020.5,387.9L1104.4,387.9" stroke="#9a9a9a" stroke-width="0.7"/>
<path d="M1020.5,387.9L1079.9,387.9" stroke="#1c1c1c" stroke-width="1.0"/>
<path d="M1070.1,285.6L1070.1,410.0" stroke="#9a9a9a" stroke-width="0.8"/>
<path d="M1093.9,285.6L1093.9,396.0" stroke="#9a9a9a" stroke-width="1.0"/>
<path d="M1077.1,396.1L1104.4,396.1" stroke="#444" stroke-width="1.1"/>
<path d="M1077.1,396.1L1077.1,410.0" stroke="#444" stroke-width="1.1"/>
<path d="M1020.5,294.0L1027.5,285.6H1104.4V410.0H1020.5Z" fill="none" stroke="#1c1c1c" stroke-width="1.4"/>
<use href="#insetc" transform="translate(1020.5,285.6) scale(1.000)"/>
</g>
</g>
<rect x="580.6" y="17.0" width="531.1" height="409.0" fill="none" stroke="#151515" stroke-width="1.9"/>
<text class="t" x="589.2" y="55.9">B) dL</text>
<text class="v" x="596.5" y="405.6">(+63.9 ×10<tspan dy="-14.3" dx="2" font-size="15.5">9</tspan><tspan dy="14.3" dx="2"> m</tspan><tspan dy="-14.3" dx="1.5" font-size="15.5">3</tspan><tspan dy="14.3" dx="0">)</tspan></text>
<g clip-path="url(#c2)">
<g transform="translate(551.00,0.40) scale(1.0000)" class="pr" style="stroke-width:0.90">
<use href="#pIM" fill="#aaff00"/>
<use href="#pXJ" fill="#d3ffbe"/>
<use href="#pTB" fill="#e1e1e1"/>
<use href="#pQH" fill="#e9ffbe"/>
<use href="#pGS" fill="#e9ffbe"/>
<use href="#pSC" fill="#d3ffbe"/>
<use href="#pYN" fill="#d3ffbe"/>
<use href="#pSN" fill="#e9ffbe"/>
<use href="#pNX" fill="#ff3f0a"/>
<use href="#pNX2" fill="#e9ffbe"/>
<use href="#pSX" fill="#a3ff73"/>
<use href="#pHE" fill="#d3ffbe"/>
<use href="#pBJ" fill="#d3ffbe"/>
<use href="#pTJ" fill="#aaff00"/>
<use href="#pLN" fill="#d3ffbe"/>
<use href="#pJL" fill="#a3ff73"/>
<use href="#pHL" fill="#fbeb9e"/>
<use href="#pHA" fill="#d3ffbe"/>
<use href="#pSD" fill="#a3ff73"/>
<use href="#pCQ" fill="#a3ff73"/>
<use href="#pGZ" fill="#d3ffbe"/>
<use href="#pHB" fill="#e9ffbe"/>
<use href="#pHN" fill="#d3ffbe"/>
<use href="#pGX" fill="#d3ffbe"/>
<use href="#pGD" fill="#d3ffbe"/>
<use href="#pAH" fill="#a3ff73"/>
<use href="#pJX" fill="#a3ff73"/>
<use href="#pJS" fill="#a3ff73"/>
<use href="#pZJ" fill="#d3ffbe"/>
<use href="#pFJ" fill="#d3ffbe"/>
<use href="#pSH" fill="#a3ff73"/>
<use href="#pHI" fill="#d3ffbe"/>
<use href="#pTW" fill="#e1e1e1"/>
</g>
<g transform="translate(551.00,0.40) scale(1.0000)"><use href="#coast"/><use href="#misc"/></g>
<g class="pl">
<text x="1221.6" y="141.5">XJ</text>
<text x="1221.6" y="249.4" style="fill:#4a4a4a;stroke:#4a4a4a">TB</text>
<text x="1304.4" y="217.4">QH</text>
<text x="1310.4" y="170.4">GS</text>
<text x="1485.3" y="134.1">IM</text>
<text x="1561.6" y="91.7">HL</text>
<text x="1554.0" y="133.4">JL</text>
<text x="1524.5" y="157.6">LN</text>
<text x="1391.5" y="208.9">NX</text>
<text x="1443.0" y="202.5">SX</text>
<text x="1408.0" y="246.7">SN</text>
<text x="1473.2" y="195.2">HE</text>
<text x="1477.2" y="174.5">BJ</text>
<text x="1494.6" y="183.9">TJ</text>
<text x="1489.0" y="215.9">SD</text>
<text x="1451.5" y="245.5">HA</text>
<text x="1508.8" y="250.7">JS</text>
<text x="1489.6" y="265.2">AH</text>
<text x="1526.8" y="269.4">SH</text>
<text x="1443.2" y="277.0">HB</text>
<text x="1404.5" y="289.2">CQ</text>
<text x="1353.6" y="279.9">SC</text>
<text x="1515.8" y="292.4">ZJ</text>
<text x="1475.2" y="312.3">JX</text>
<text x="1439.2" y="313.4">HN</text>
<text x="1396.8" y="321.7">GZ</text>
<text x="1499.5" y="326.7">FJ</text>
<text x="1343.2" y="340.7">YN</text>
<text x="1414.6" y="356.5">GX</text>
<text x="1458.6" y="350.3">GD</text>
<text x="1533.2" y="348.7" style="fill:#4a4a4a;stroke:#4a4a4a">TW</text>
<text x="1421.8" y="403.8">HI</text>
</g>
<g>
<rect x="1571.0" y="286.5" width="83.8" height="123.9" fill="#fff"/>
<path d="M1594.2,286.5L1594.2,410.4" stroke="#9a9a9a" stroke-width="0.8"/>
<path d="M1644.5,286.5L1644.5,396.0" stroke="#333" stroke-width="1.1"/>
<path d="M1573.2,308.3L1640.6,308.3" stroke="#1c1c1c" stroke-width="1.2"/>
<path d="M1572.5,334.3L1578.3,334.3" stroke="#1c1c1c" stroke-width="1.2"/>
<path d="M1634.8,334.3L1654.4,334.3" stroke="#1c1c1c" stroke-width="1.2"/>
<path d="M1571.0,361.9L1654.8,361.9" stroke="#c8c8c8" stroke-width="0.6"/>
<path d="M1581.9,361.9L1641.3,361.9" stroke="#1c1c1c" stroke-width="1.2"/>
<path d="M1571.0,388.0L1592.8,388.0" stroke="#1c1c1c" stroke-width="1.1"/>
<path d="M1630.5,388.0L1652.2,388.0" stroke="#1c1c1c" stroke-width="1.1"/>
<path d="M1628.3,396.0L1654.8,396.0" stroke="#777" stroke-width="1.0"/>
<path d="M1628.3,396.0L1628.3,410.4" stroke="#c8c8c8" stroke-width="0.7"/>
<path d="M1571.0,294.9L1578.0,286.5H1654.8V410.4H1571.0Z" fill="none" stroke="#1c1c1c" stroke-width="1.4"/>
<use href="#insetc" transform="translate(1571.0,286.5) scale(0.999)"/>
</g>
</g>
<rect x="1127.4" y="17.0" width="532.0" height="409.0" fill="none" stroke="#151515" stroke-width="1.9"/>
<text class="t" x="1137.9" y="56.2">C) dC</text>
<text class="v" x="1147.0" y="405.0">(-274.3 ×10<tspan dy="-14.3" dx="2" font-size="15.5">9</tspan><tspan dy="14.3" dx="2"> m</tspan><tspan dy="-14.3" dx="1.5" font-size="15.5">3</tspan><tspan dy="14.3" dx="0">)</tspan></text>
<g clip-path="url(#c3)">
<g transform="translate(-545.10,449.00) scale(1.0000)" class="pr" style="stroke-width:0.90">
<use href="#pIM" fill="#ff690a"/>
<use href="#pXJ" fill="#ff990a"/>
<use href="#pTB" fill="#e1e1e1"/>
<use href="#pQH" fill="#ff990a"/>
<use href="#pGS" fill="#ff990a"/>
<use href="#pSC" fill="#ff990a"/>
<use href="#pYN" fill="#ff990a"/>
<use href="#pSN" fill="#ff690a"/>
<use href="#pNX" fill="#ff690a"/>
<use href="#pNX2" fill="#ff990a"/>
<use href="#pSX" fill="#ff690a"/>
<use href="#pHE" fill="#ff990a"/>
<use href="#pBJ" fill="#ff990a"/>
<use href="#pTJ" fill="#fbeb9e"/>
<use href="#pLN" fill="#ff990a"/>
<use href="#pJL" fill="#ffc40c"/>
<use href="#pHL" fill="#ff990a"/>
<use href="#pHA" fill="#ff690a"/>
<use href="#pSD" fill="#ffc40c"/>
<use href="#pCQ" fill="#ff990a"/>
<use href="#pGZ" fill="#ff690a"/>
<use href="#pHB" fill="#ff990a"/>
<use href="#pHN" fill="#ff990a"/>
<use href="#pGX" fill="#ff990a"/>
<use href="#pGD" fill="#ff990a"/>
<use href="#pAH" fill="#ff690a"/>
<use href="#pJX" fill="#ff690a"/>
<use href="#pJS" fill="#ff990a"/>
<use href="#pZJ" fill="#ff990a"/>
<use href="#pFJ" fill="#ffc40c"/>
<use href="#pSH" fill="#e1e1e1"/>
<use href="#pHI" fill="#ff990a"/>
<use href="#pTW" fill="#e1e1e1"/>
</g>
<g transform="translate(-545.10,449.00) scale(1.0000)"><use href="#coast"/><use href="#misc"/></g>
<g class="pl">
<text x="125.5" y="590.1">XJ</text>
<text x="125.5" y="698.0" style="fill:#4a4a4a;stroke:#4a4a4a">TB</text>
<text x="208.3" y="666.0">QH</text>
<text x="214.3" y="619.0">GS</text>
<text x="389.2" y="582.7">IM</text>
<text x="465.5" y="540.3">HL</text>
<text x="457.9" y="582.0">JL</text>
<text x="428.4" y="606.2">LN</text>
<text x="295.4" y="657.5">NX</text>
<text x="346.9" y="651.1">SX</text>
<text x="311.9" y="695.3">SN</text>
<text x="377.1" y="643.8">HE</text>
<text x="381.1" y="623.1">BJ</text>
<text x="398.5" y="632.5">TJ</text>
<text x="392.9" y="664.5">SD</text>
<text x="355.4" y="694.1">HA</text>
<text x="412.7" y="699.3">JS</text>
<text x="393.5" y="713.8">AH</text>
<text x="430.7" y="718.0">SH</text>
<text x="347.1" y="725.6">HB</text>
<text x="308.4" y="737.8">CQ</text>
<text x="257.5" y="728.5">SC</text>
<text x="419.7" y="741.0">ZJ</text>
<text x="379.1" y="760.9">JX</text>
<text x="343.1" y="762.0">HN</text>
<text x="300.7" y="770.3">GZ</text>
<text x="403.4" y="775.3">FJ</text>
<text x="247.1" y="789.3">YN</text>
<text x="318.5" y="805.1">GX</text>
<text x="362.5" y="798.9">GD</text>
<text x="437.1" y="797.3" style="fill:#4a4a4a;stroke:#4a4a4a">TW</text>
<text x="325.7" y="852.4">HI</text>
</g>
<g>
<rect x="475.2" y="735.1" width="84.8" height="123.9" fill="#fff"/>
<path d="M498.8,737.0L498.8,859.0" stroke="#333" stroke-width="1.2"/>
<path d="M523.8,737.0L523.8,859.0" stroke="#333" stroke-width="1.2"/>
<path d="M548.7,736.0L548.7,844.6" stroke="#333" stroke-width="1.2"/>
<path d="M476.0,756.2L558.6,756.2" stroke="#333" stroke-width="1.0"/>
<path d="M481.7,783.7L541.2,783.7" stroke="#222" stroke-width="1.2"/>
<path d="M475.2,810.5L560.0,810.5" stroke="#c8c8c8" stroke-width="0.6"/>
<path d="M475.2,810.5L485.4,810.5" stroke="#1c1c1c" stroke-width="1.3"/>
<path d="M544.8,810.5L558.6,810.5" stroke="#1c1c1c" stroke-width="1.3"/>
<path d="M497.0,837.3L534.6,837.3" stroke="#1c1c1c" stroke-width="1.3"/>
<path d="M532.5,844.6L560.0,844.6" stroke="#1c1c1c" stroke-width="1.3"/>
<rect x="475.2" y="735.1" width="84.8" height="123.9" fill="none" stroke="#c8c8c8" stroke-width="0.7"/>
<path d="M475.2,859.0H560.0" stroke="#999" stroke-width="1.0"/>
<use href="#insetc" transform="translate(475.2,735.1) scale(1.011)"/>
</g>
</g>
<rect x="33.0" y="462.7" width="530.6" height="409.8" fill="none" stroke="#151515" stroke-width="1.9"/>
<text class="t" x="42.0" y="502.4">D) dY</text>
<text class="v" x="52.0" y="853.0">(+485.4 ×10<tspan dy="-14.3" dx="2" font-size="15.5">9</tspan><tspan dy="14.3" dx="2"> m</tspan><tspan dy="-14.3" dx="1.5" font-size="15.5">3</tspan><tspan dy="14.3" dx="0">)</tspan></text>
<g clip-path="url(#c4)">
<g transform="translate(0.30,447.20) scale(1.0000)" class="pr" style="stroke-width:0.90">
<use href="#pIM" fill="#fbeb9e"/>
<use href="#pXJ" fill="#fbeb9e"/>
<use href="#pTB" fill="#e1e1e1"/>
<use href="#pQH" fill="#fbeb9e"/>
<use href="#pGS" fill="#fbeb9e"/>
<use href="#pSC" fill="#e9ffbe"/>
<use href="#pYN" fill="#fbeb9e"/>
<use href="#pSN" fill="#fbeb9e"/>
<use href="#pNX" fill="#fbeb9e"/>
<use href="#pNX2" fill="#fbeb9e"/>
<use href="#pSX" fill="#fbeb9e"/>
<use href="#pHE" fill="#fbeb9e"/>
<use href="#pBJ" fill="#ffc40c"/>
<use href="#pTJ" fill="#ffc40c"/>
<use href="#pLN" fill="#fbeb9e"/>
<use href="#pJL" fill="#fbeb9e"/>
<use href="#pHL" fill="#fbeb9e"/>
<use href="#pHA" fill="#e9ffbe"/>
<use href="#pSD" fill="#fbeb9e"/>
<use href="#pCQ" fill="#fbeb9e"/>
<use href="#pGZ" fill="#e9ffbe"/>
<use href="#pHB" fill="#fbeb9e"/>
<use href="#pHN" fill="#fbeb9e"/>
<use href="#pGX" fill="#e9ffbe"/>
<use href="#pGD" fill="#fbeb9e"/>
<use href="#pAH" fill="#e9ffbe"/>
<use href="#pJX" fill="#fbeb9e"/>
<use href="#pJS" fill="#fbeb9e"/>
<use href="#pZJ" fill="#fbeb9e"/>
<use href="#pFJ" fill="#fbeb9e"/>
<use href="#pSH" fill="#fbeb9e"/>
<use href="#pHI" fill="#fbeb9e"/>
<use href="#pTW" fill="#e1e1e1"/>
</g>
<g transform="translate(0.30,447.20) scale(1.0000)"><use href="#coast"/><use href="#misc"/></g>
<g class="pl">
<text x="670.9" y="588.3">XJ</text>
<text x="670.9" y="696.2" style="fill:#4a4a4a;stroke:#4a4a4a">TB</text>
<text x="753.7" y="664.2">QH</text>
<text x="759.7" y="617.2">GS</text>
<text x="934.6" y="580.9">IM</text>
<text x="1010.9" y="538.5">HL</text>
<text x="1003.3" y="580.2">JL</text>
<text x="973.8" y="604.4">LN</text>
<text x="840.8" y="655.7">NX</text>
<text x="892.3" y="649.3">SX</text>
<text x="857.3" y="693.5">SN</text>
<text x="922.5" y="642.0">HE</text>
<text x="926.5" y="621.3">BJ</text>
<text x="943.9" y="630.7">TJ</text>
<text x="938.3" y="662.7">SD</text>
<text x="900.8" y="692.3">HA</text>
<text x="958.1" y="697.5">JS</text>
<text x="938.9" y="712.0">AH</text>
<text x="976.1" y="716.2">SH</text>
<text x="892.5" y="723.8">HB</text>
<text x="853.8" y="736.0">CQ</text>
<text x="802.9" y="726.7">SC</text>
<text x="965.1" y="739.2">ZJ</text>
<text x="924.5" y="759.1">JX</text>
<text x="888.5" y="760.2">HN</text>
<text x="846.1" y="768.5">GZ</text>
<text x="948.8" y="773.5">FJ</text>
<text x="792.5" y="787.5">YN</text>
<text x="863.9" y="803.3">GX</text>
<text x="907.9" y="797.1">GD</text>
<text x="982.5" y="795.5" style="fill:#4a4a4a;stroke:#4a4a4a">TW</text>
<text x="871.1" y="850.6">HI</text>
</g>
<g>
<rect x="1021.3" y="733.4" width="83.6" height="123.8" fill="#fff"/>
<path d="M1044.5,733.4L1044.5,857.2" stroke="#9a9a9a" stroke-width="0.7"/>
<path d="M1094.8,733.4L1094.8,843.1" stroke="#333" stroke-width="1.1"/>
<path d="M1021.3,755.1L1094.0,755.1" stroke="#1c1c1c" stroke-width="1.2"/>
<path d="M1051.3,782.7L1068.0,782.7" stroke="#1c1c1c" stroke-width="1.2"/>
<path d="M1100.6,782.7L1104.9,782.7" stroke="#1c1c1c" stroke-width="1.2"/>
<path d="M1021.3,808.8L1091.2,808.8" stroke="#1c1c1c" stroke-width="1.3"/>
<path d="M1081.7,835.1L1102.8,835.1" stroke="#1c1c1c" stroke-width="1.2"/>
<path d="M1078.8,843.1L1104.9,843.1" stroke="#444" stroke-width="1.1"/>
<path d="M1078.8,843.1L1078.8,857.2" stroke="#c8c8c8" stroke-width="0.7"/>
<path d="M1021.3,741.8L1028.3,733.4H1104.9V857.2H1021.3Z" fill="none" stroke="#1c1c1c" stroke-width="1.4"/>
<path d="M1028.3,733.4H1104.9" stroke="#1c1c1c" stroke-width="2.0"/>
<use href="#insetc" transform="translate(1021.3,733.4) scale(0.996)"/>
</g>
</g>
<rect x="580.6" y="462.7" width="531.1" height="409.8" fill="none" stroke="#151515" stroke-width="1.9"/>
<text class="t" x="588.0" y="502.4">E) dP</text>
<text class="v" x="596.5" y="852.4">(+16.9 ×10<tspan dy="-14.3" dx="2" font-size="15.5">9</tspan><tspan dy="14.3" dx="2"> m</tspan><tspan dy="-14.3" dx="1.5" font-size="15.5">3</tspan><tspan dy="14.3" dx="0">)</tspan></text>
<g clip-path="url(#c5)">
<g transform="translate(550.90,444.20) scale(1.0000)" class="pr" style="stroke-width:0.90">
<use href="#pIM" fill="#fbeb9e"/>
<use href="#pXJ" fill="#fbeb9e"/>
<use href="#pTB" fill="#e1e1e1"/>
<use href="#pQH" fill="#fbeb9e"/>
<use href="#pGS" fill="#fbeb9e"/>
<use href="#pSC" fill="#fbeb9e"/>
<use href="#pYN" fill="#fbeb9e"/>
<use href="#pSN" fill="#fbeb9e"/>
<use href="#pNX" fill="#fbeb9e"/>
<use href="#pNX2" fill="#fbeb9e"/>
<use href="#pSX" fill="#fbeb9e"/>
<use href="#pHE" fill="#fbeb9e"/>
<use href="#pBJ" fill="#fbeb9e"/>
<use href="#pTJ" fill="#e9ffbe"/>
<use href="#pLN" fill="#fbeb9e"/>
<use href="#pJL" fill="#e9ffbe"/>
<use href="#pHL" fill="#fbeb9e"/>
<use href="#pHA" fill="#fbeb9e"/>
<use href="#pSD" fill="#fbeb9e"/>
<use href="#pCQ" fill="#e9ffbe"/>
<use href="#pGZ" fill="#fbeb9e"/>
<use href="#pHB" fill="#fbeb9e"/>
<use href="#pHN" fill="#fbeb9e"/>
<use href="#pGX" fill="#fbeb9e"/>
<use href="#pGD" fill="#fbeb9e"/>
<use href="#pAH" fill="#fbeb9e"/>
<use href="#pJX" fill="#fbeb9e"/>
<use href="#pJS" fill="#fbeb9e"/>
<use href="#pZJ" fill="#fbeb9e"/>
<use href="#pFJ" fill="#fbeb9e"/>
<use href="#pSH" fill="#e9ffbe"/>
<use href="#pHI" fill="#e9ffbe"/>
<use href="#pTW" fill="#e1e1e1"/>
</g>
<g transform="translate(550.90,444.20) scale(1.0000)"><use href="#coast"/><use href="#misc"/></g>
<g class="pl">
<text x="1221.5" y="585.3">XJ</text>
<text x="1221.5" y="693.2" style="fill:#4a4a4a;stroke:#4a4a4a">TB</text>
<text x="1304.3" y="661.2">QH</text>
<text x="1310.3" y="614.2">GS</text>
<text x="1485.2" y="577.9">IM</text>
<text x="1561.5" y="535.5">HL</text>
<text x="1553.9" y="577.2">JL</text>
<text x="1524.4" y="601.4">LN</text>
<text x="1391.4" y="652.7">NX</text>
<text x="1442.9" y="646.3">SX</text>
<text x="1407.9" y="690.5">SN</text>
<text x="1473.1" y="639.0">HE</text>
<text x="1477.1" y="618.3">BJ</text>
<text x="1494.5" y="627.7">TJ</text>
<text x="1488.9" y="659.7">SD</text>
<text x="1451.4" y="689.3">HA</text>
<text x="1508.7" y="694.5">JS</text>
<text x="1489.5" y="709.0">AH</text>
<text x="1526.7" y="713.2">SH</text>
<text x="1443.1" y="720.8">HB</text>
<text x="1404.4" y="733.0">CQ</text>
<text x="1353.5" y="723.7">SC</text>
<text x="1515.7" y="736.2">ZJ</text>
<text x="1475.1" y="756.1">JX</text>
<text x="1439.1" y="757.2">HN</text>
<text x="1396.7" y="765.5">GZ</text>
<text x="1499.4" y="770.5">FJ</text>
<text x="1343.1" y="784.5">YN</text>
<text x="1414.5" y="800.3">GX</text>
<text x="1458.5" y="794.1">GD</text>
<text x="1533.1" y="792.5" style="fill:#4a4a4a;stroke:#4a4a4a">TW</text>
<text x="1421.7" y="847.6">HI</text>
</g>
<g>
<rect x="1571.0" y="730.9" width="84.1" height="123.9" fill="#fff"/>
<path d="M1594.2,730.9L1594.2,854.8" stroke="#9a9a9a" stroke-width="0.7"/>
<path d="M1645.0,730.9L1645.0,840.0" stroke="#555" stroke-width="0.9"/>
<path d="M1587.0,752.6L1629.7,752.6" stroke="#1c1c1c" stroke-width="1.2"/>
<path d="M1571.0,752.6L1655.0,752.6" stroke="#c8c8c8" stroke-width="0.5"/>
<path d="M1571.0,778.7L1655.0,778.7" stroke="#c8c8c8" stroke-width="0.6"/>
<path d="M1572.5,778.7L1578.3,778.7" stroke="#1c1c1c" stroke-width="1.2"/>
<path d="M1634.8,778.7L1655.1,778.7" stroke="#1c1c1c" stroke-width="1.2"/>
<path d="M1571.0,806.5L1655.0,806.5" stroke="#9a9a9a" stroke-width="0.6"/>
<path d="M1581.9,806.5L1633.4,806.5" stroke="#222" stroke-width="0.9"/>
<path d="M1571.0,832.3L1652.2,832.3" stroke="#333" stroke-width="0.8"/>
<path d="M1628.7,840.3L1655.1,840.3" stroke="#1c1c1c" stroke-width="1.3"/>
<path d="M1628.7,840.3L1628.7,854.8" stroke="#1c1c1c" stroke-width="1.3"/>
<path d="M1571.0,739.3L1578.0,730.9H1655.1V854.8H1571.0Z" fill="none" stroke="#1c1c1c" stroke-width="1.4"/>
<use href="#insetc" transform="translate(1571.0,730.9) scale(1.002)"/>
</g>
</g>
<rect x="1127.4" y="462.7" width="532.0" height="409.8" fill="none" stroke="#151515" stroke-width="1.9"/>
<text class="t" x="1138.2" y="502.4">F) dE</text>
<text class="v" x="1146.6" y="853.0">(+22.2 ×10<tspan dy="-14.3" dx="2" font-size="15.5">9</tspan><tspan dy="14.3" dx="2"> m</tspan><tspan dy="-14.3" dx="1.5" font-size="15.5">3</tspan><tspan dy="14.3" dx="0">)</tspan></text>
<text class="lt" x="30" y="905.5">Contribution to GWF change (%)</text>
<rect x="30.3" y="920.5" width="55.5" height="33" fill="#0ca882" stroke="#85856f" stroke-width="0.9"/>
<text class="lg" x="92.8" y="946.5">&lt; -250</text>
<rect x="175.8" y="920.5" width="55.5" height="33" fill="#08e2a6" stroke="#85856f" stroke-width="0.9"/>
<text class="lg" x="238.3" y="946.5">-250 ~ -200</text>
<rect x="378.0" y="920.5" width="55.5" height="33" fill="#55f000" stroke="#85856f" stroke-width="0.9"/>
<text class="lg" x="440.5" y="946.5">-200 ~ -150</text>
<rect x="580.0" y="920.5" width="55.5" height="33" fill="#aaff00" stroke="#85856f" stroke-width="0.9"/>
<text class="lg" x="642.5" y="946.5">-150 ~ -100</text>
<rect x="772.8" y="920.5" width="55.5" height="33" fill="#a3ff73" stroke="#85856f" stroke-width="0.9"/>
<text class="lg" x="835.3" y="946.5">-100 ~ -50</text>
<rect x="955.0" y="920.5" width="55.5" height="33" fill="#d3ffbe" stroke="#85856f" stroke-width="0.9"/>
<text class="lg" x="1017.5" y="946.5">-50 ~ -20</text>
<rect x="1127.0" y="920.5" width="55.5" height="33" fill="#e9ffbe" stroke="#85856f" stroke-width="0.9"/>
<text class="lg" x="1189.5" y="946.5">-20 ~ 0</text>
<rect x="30.3" y="961.0" width="55.5" height="34" fill="#fbeb9e" stroke="#85856f" stroke-width="0.9"/>
<text class="lg" x="92.8" y="987.2">0 ~ 20</text>
<rect x="175.8" y="961.0" width="55.5" height="34" fill="#ffc40c" stroke="#85856f" stroke-width="0.9"/>
<text class="lg" x="238.3" y="987.2">20 ~ 50</text>
<rect x="378.0" y="961.0" width="55.5" height="34" fill="#ff990a" stroke="#85856f" stroke-width="0.9"/>
<text class="lg" x="440.5" y="987.2">50 ~ 100</text>
<rect x="580.0" y="961.0" width="55.5" height="34" fill="#ff690a" stroke="#85856f" stroke-width="0.9"/>
<text class="lg" x="642.5" y="987.2">100 ~ 150</text>
<rect x="772.8" y="961.0" width="55.5" height="34" fill="#ff3f0a" stroke="#85856f" stroke-width="0.9"/>
<text class="lg" x="835.3" y="987.2">&gt; 150</text>
<rect x="954.0" y="959.5" width="55.5" height="34" fill="#e1e1e1" stroke="#85856f" stroke-width="0.9"/>
<text class="lg" x="1016.5" y="984.5">No data</text>
</svg>
</body></html>
